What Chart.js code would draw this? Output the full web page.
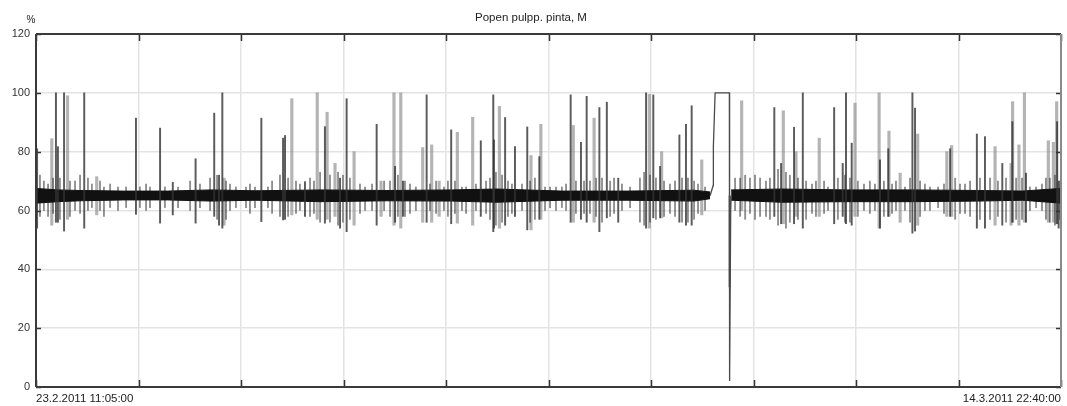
<!DOCTYPE html>
<html>
<head>
<meta charset="utf-8">
<title>Popen pulpp. pinta, M</title>
<script src="https://cdn.jsdelivr.net/npm/chart.js@4.4.1/dist/chart.umd.min.js"></script>
<style>
  html, body { margin: 0; padding: 0; background: #fff; }
  #wrap { width: 1067px; height: 406px; }
</style>
</head>
<body>
<div id="wrap"><canvas id="trend" width="1067" height="406"></canvas></div>
<script>
// time axis: hours after 23.2.2011 11:05:00
const spanHours = 467.58;
const tickLabels = ['23.2.2011 11:05:00', '14.3.2011 22:40:00'];
const chartTitle = 'Popen pulpp. pinta, M';
const unitLabel = '%';

// tall excursions, dark trace
const darkHours = [0.5, 9.1, 10.0, 12.8, 22.0, 45.6, 56.6, 62.4, 72.8, 81.3, 85.0, 83.5,
  102.8, 112.7, 113.6, 122.7, 131.8, 138.7, 141.7, 155.4, 163.8, 167.4, 178.2, 189.4,
  202.9, 208.6, 208.9, 214.0, 218.5, 224.1, 229.6, 243.9, 248.6, 251.2, 257.0, 260.4,
  265.6, 278.3, 281.6, 284.7, 293.5, 296.5, 299.1, 316.4, 336.8, 339.9, 345.8, 349.8,
  364.1, 368.0, 369.5, 372.1, 385.0, 388.8, 399.8, 401.0, 417.0, 429.2, 432.9, 440.8,
  445.4, 451.6, 465.8, 466.5];
const darkLow = [54, 56, 56, 53, 54, 58.7, 55.7, 58.5, 55.7, 58, 54, 55,
  56.2, 56.8, 57, 58, 55.7, 54, 52.8, 55, 56, 58, 56, 55.5,
  58, 52.8, 54, 55, 58, 53.4, 57, 56, 57, 56, 52.8, 57.5,
  56, 54, 57.5, 57.5, 56, 55, 55, 34, 58, 55.5, 55.5, 54,
  55.5, 58, 55.5, 55, 54, 58, 52.3, 53, 58, 54, 54, 55,
  56, 56, 55.5, 54];
const darkHigh = [81, 100, 81.7, 100, 100, 91.4, 88, 69.6, 77.6, 93.1, 100, 72,
  91.4, 84.6, 85.5, 69.8, 88.5, 71, 98, 89.3, 75, 70, 99.3, 87.4,
  83.7, 99.3, 84, 91.6, 81.7, 88.4, 78.3, 99.3, 83.2, 98.8, 95, 96.8,
  71, 100, 99.3, 75, 85.7, 89.3, 95.6, 65, 95, 76, 88.3, 100,
  95, 76, 100, 82.9, 77.2, 81, 100, 94.8, 81, 86, 85.1, 76,
  90.2, 72.7, 90.2, 70];

// tall excursions, light trace
const grayHours = [7.2, 14.4, 27.7, 85.8, 116.7, 128.3, 132.8, 136.4, 145.1, 157.4, 163.3,
  166.4, 176.4, 180.5, 183.9, 192.2, 199.2, 211.4, 225.8, 230.3, 245.1, 254.6, 279.8,
  285.4, 303.7, 321.9, 340.9, 346.7, 357.3, 373.6, 384.6, 389.1, 394.2, 402.2, 415.5,
  417.7, 437.5, 444.8, 445.5, 448.4, 450.9, 461.8, 464.1, 465.6];
const grayLow = [55, 57, 58.5, 55, 58.5, 57, 57, 58, 55, 58, 55,
  54, 56, 56, 58, 55.7, 55, 54, 53.4, 57, 56, 56, 54,
  57.5, 58.5, 60, 55.5, 58, 58, 58, 54, 58, 56, 55, 58,
  58, 55, 55, 56, 55, 56, 56, 56, 55.5];
const grayHigh = [84.4, 99, 71.5, 71, 98, 100, 93.4, 76, 80, 70, 100,
  100, 81.4, 82.3, 70, 86.6, 91.7, 95.4, 78.7, 89.3, 88.9, 91.4, 99.5,
  80, 77.2, 97.3, 93.9, 80, 84.6, 96.5, 100, 87, 72.7, 86, 80,
  82.1, 81.7, 76, 97, 82.3, 100, 83.7, 83.2, 97];

// short scatter around the running level
const noiseHours = [1.8, 3.6, 5.5, 7.8, 10.9, 15.5, 17.8, 20.1, 23.7, 25.5, 29.2, 31.0, 33.8,
  37.4, 41.1, 47.4, 50.2, 52.0, 58.8, 64.8, 70.3, 74.8, 79.4, 82.6, 86.7, 88.5, 91.2,
  95.8, 97.6, 99.9, 105.8, 107.7, 111.3, 115.0, 118.6, 120.4, 125.0, 126.8, 129.6, 134.1,
  137.8, 140.0, 143.2, 147.8, 150.1, 153.3, 158.8, 161.5, 165.1, 168.3, 170.6, 173.3,
  179.7, 182.5, 186.1, 187.9, 191.1, 194.3, 196.2, 200.7, 205.3, 207.1, 209.8, 212.6,
  215.3, 217.1, 221.7, 225.4, 227.6, 232.2, 234.5, 237.2, 239.9, 241.8, 246.3, 250.0,
  252.7, 255.5, 258.2, 261.9, 263.7, 267.3, 271.0, 275.5, 277.4, 280.1, 282.8, 286.5,
  289.2, 291.5, 294.7, 297.4, 300.2, 302.0, 305.2, 318.9, 321.2, 323.5, 325.7, 328.0,
  330.3, 333.0, 334.8, 338.5, 342.1, 343.9, 347.6, 351.3, 354.0, 355.8, 359.5, 361.3,
  365.8, 369.0, 371.3, 374.9, 377.7, 380.4, 382.7, 386.8, 390.5, 392.3, 396.4, 398.7,
  403.3, 405.5, 407.8, 411.5, 414.2, 419.3, 421.5, 423.8, 426.1, 430.6, 435.2, 438.8,
  442.5, 447.1, 449.8, 453.4, 456.2, 458.9, 460.7, 462.5, 464.8, 467.1];
const noiseLow = [58, 60, 58, 59, 57, 58, 60, 59, 60, 61, 60, 58, 61,
  60, 61, 61, 60, 61, 61, 61, 60, 61, 60, 57, 57, 60, 61,
  61, 59, 61, 61, 59, 58, 58, 59, 60, 58, 59, 56, 56,
  55, 56, 57, 59, 60, 60, 60, 58, 58, 58, 59, 60,
  60, 59, 60, 58, 59, 60, 59, 60, 59, 57, 55, 56,
  58, 59, 60, 56, 57, 60, 61, 60, 61, 60, 59, 59,
  59, 58, 56, 58, 59, 60, 61, 56, 55, 56, 57, 58,
  59, 58, 56, 56, 57, 59, 60, 60, 58, 57, 59, 57,
  58, 58, 57, 55, 54, 56, 57, 57, 59, 58, 59, 60,
  57, 56, 56, 58, 60, 59, 60, 58, 59, 60, 60, 56,
  58, 60, 60, 61, 59, 57, 59, 59, 58, 57, 57, 58,
  56, 57, 57, 60, 61, 60, 57, 56, 55, 57];
const noiseHigh = [72, 70, 69, 71, 71, 70, 70, 72, 71, 69, 70, 68, 69,
  68, 68, 68, 69, 68, 68, 68, 70, 69, 71, 72, 70, 69, 68,
  68, 69, 68, 68, 70, 72, 71, 70, 69, 71, 70, 73, 72,
  73, 72, 71, 69, 68, 69, 70, 70, 72, 70, 69, 68,
  69, 70, 68, 70, 70, 68, 68, 69, 70, 71, 73, 72,
  70, 69, 69, 70, 71, 68, 68, 68, 68, 69, 70, 70,
  70, 71, 71, 70, 71, 69, 68, 71, 73, 72, 71, 70,
  69, 70, 71, 71, 70, 69, 68, 71, 71, 72, 71, 72,
  71, 70, 71, 74, 73, 72, 71, 70, 69, 70, 70, 68,
  71, 72, 71, 70, 69, 70, 69, 70, 69, 70, 68, 71,
  70, 69, 68, 68, 69, 71, 69, 69, 70, 71, 71, 70,
  71, 71, 71, 68, 68, 69, 71, 71, 72, 70];

// dense running level, before and after the interruption
const coreHoursA = [0, 10, 20, 40, 60, 80, 100, 130, 160, 190, 210, 240, 270, 300, 307.5];
const coreLowA = [62.5, 63, 63.3, 63.6, 63.6, 63.2, 63.5, 63, 63.3, 63.2, 62.8, 63.5, 63.5, 63.2, 64];
const coreHighA = [67.5, 67, 66.8, 66.6, 66.6, 67, 66.7, 67, 66.8, 67, 67.3, 66.6, 66.6, 66.9, 66.3];
const coreHoursB = [317.1, 340, 370, 400, 430, 450, 467.58];
const coreLowB = [63.5, 62.8, 63, 63, 63.2, 63.5, 62.5];
const coreHighB = [67, 67.3, 67, 67, 66.8, 66.6, 67.5];

// the interruption: climb, hold at 100 %, drop to bottom, recover
const stopHours = [307.5, 308.9, 309.0, 309.8, 315.8, 316.3, 316.4, 316.9, 317.1];
const stopValues = [65, 68.5, 81.7, 100, 100, 100, 2, 60, 65];

const pts = (xs, ys) => xs.map((x, i) => ({ x: x, y: ys[i] }));
const ranges = (xs, lo, hi) => xs.map((x, i) => ({ x: x, y: [lo[i], hi[i]] }));

const frame = {
  id: 'frame',
  afterDraw(chart) {
    const { ctx, chartArea: a, scales: { x, y } } = chart;
    ctx.save();
    ctx.strokeStyle = '#333';
    ctx.lineWidth = 1.5;
    ctx.beginPath();
    x.ticks.forEach(t => {
      const px = Math.round(x.getPixelForValue(t.value)) + 0.5;
      ctx.moveTo(px, a.top); ctx.lineTo(px, a.top + 7);
      ctx.moveTo(px, a.bottom); ctx.lineTo(px, a.bottom - 7);
    });
    y.ticks.forEach(t => {
      const py = Math.round(y.getPixelForValue(t.value)) + 0.5;
      ctx.moveTo(a.left, py); ctx.lineTo(a.left + 5, py);
      ctx.moveTo(a.right, py); ctx.lineTo(a.right - 5, py);
    });
    ctx.stroke();

    ctx.lineWidth = 2;
    ctx.strokeStyle = '#3a3a3a';
    ctx.beginPath();
    ctx.moveTo(a.left, a.top); ctx.lineTo(a.right, a.top);
    ctx.moveTo(a.left, a.bottom); ctx.lineTo(a.right, a.bottom);
    ctx.moveTo(a.left, a.top); ctx.lineTo(a.left, a.bottom);
    ctx.stroke();
    ctx.strokeStyle = '#8a8a8a';
    ctx.beginPath();
    ctx.moveTo(a.right, a.top); ctx.lineTo(a.right, a.bottom);
    ctx.stroke();

    ctx.fillStyle = '#222';
    ctx.font = '11.5px "Liberation Sans", Arial, sans-serif';
    ctx.textAlign = 'center';
    ctx.textBaseline = 'middle';
    ctx.fillText(chartTitle, 531, 18);
    ctx.font = '10px "Liberation Sans", Arial, sans-serif';
    ctx.fillText(unitLabel, 31, 20);
    ctx.restore();
  }
};

new Chart(document.getElementById('trend'), {
  type: 'bar',
  data: {
    datasets: [
      { type: 'bar', data: ranges(grayHours, grayLow, grayHigh), backgroundColor: 'rgba(130,130,130,0.6)',
        barThickness: 2.5, grouped: false, order: 6 },
      { type: 'bar', data: ranges(noiseHours, noiseLow, noiseHigh), backgroundColor: 'rgba(30,30,30,0.5)',
        barThickness: 1.2, grouped: false, order: 5 },
      { type: 'line', data: pts(coreHoursA, coreLowA), borderColor: '#111', borderWidth: 1,
        pointRadius: 0, fill: false, order: 4 },
      { type: 'line', data: pts(coreHoursA, coreHighA), borderColor: '#111', borderWidth: 1,
        backgroundColor: '#111', pointRadius: 0, fill: '-1', order: 4 },
      { type: 'line', data: pts(coreHoursB, coreLowB), borderColor: '#111', borderWidth: 1,
        pointRadius: 0, fill: false, order: 4 },
      { type: 'line', data: pts(coreHoursB, coreHighB), borderColor: '#111', borderWidth: 1,
        backgroundColor: '#111', pointRadius: 0, fill: '-1', order: 4 },
      { type: 'bar', data: ranges(darkHours, darkLow, darkHigh), backgroundColor: 'rgba(50,50,50,0.8)',
        barThickness: 1.3, grouped: false, order: 2 },
      { type: 'line', data: pts(stopHours, stopValues), borderColor: '#4a4a4a', borderWidth: 1.3,
        pointRadius: 0, fill: false, tension: 0, order: 1 }
    ]
  },
  options: {
    animation: false,
    responsive: false,
    devicePixelRatio: 1,
    layout: { padding: { top: 34, right: 6, left: 0, bottom: 0 } },
    plugins: { legend: { display: false }, tooltip: { enabled: false }, title: { display: false } },
    scales: {
      x: {
        type: 'linear', min: 0, max: spanHours, offset: false,
        afterBuildTicks: s => { s.ticks = Array.from({ length: 11 }, (_, i) => ({ value: spanHours * i / 10 })); },
        afterFit: s => { s.height = 19; },
        grid: { color: '#e3e3e3', lineWidth: 1.5, drawTicks: false, offset: false },
        border: { display: false },
        ticks: {
          autoSkip: false, maxRotation: 0, align: 'inner', padding: 5, color: '#222',
          font: { family: '"Liberation Sans", Arial, sans-serif', size: 11.5 },
          callback: (v, i, all) => i === 0 ? tickLabels[0] : (i === all.length - 1 ? tickLabels[1] : '')
        }
      },
      y: {
        min: 0, max: 120,
        afterFit: s => { s.width = 36; },
        grid: { color: '#e3e3e3', lineWidth: 1.5, drawTicks: false },
        border: { display: false },
        ticks: {
          stepSize: 20, padding: 6, color: '#333',
          font: { family: '"Liberation Sans", Arial, sans-serif', size: 11 }
        }
      }
    }
  },
  plugins: [frame]
});
</script>
</body>
</html>
